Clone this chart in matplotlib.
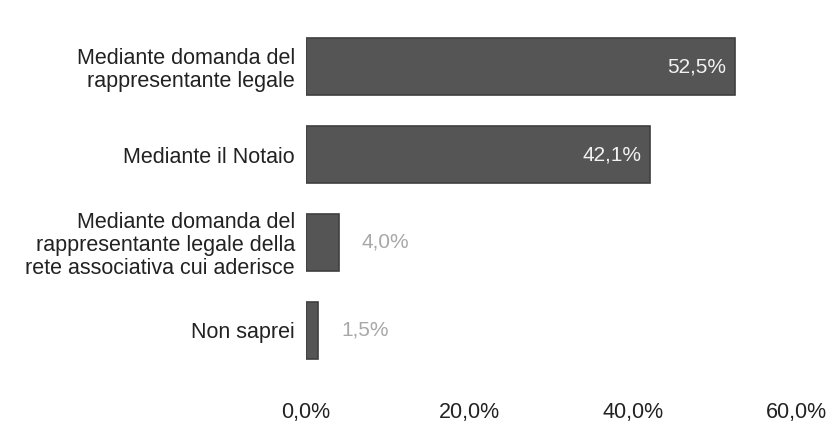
import matplotlib.pyplot as plt

# Survey answers and shares (%)
categories = [
    "Mediante domanda del\nrappresentante legale",
    "Mediante il Notaio",
    "Mediante domanda del\nrappresentante legale della\nrete associativa cui aderisce",
    "Non saprei",
]
values = [52.5, 42.1, 4.0, 1.5]
xticks = [0, 20, 40, 60]

plt.rcParams['font.family'] = ['Liberation Sans', 'DejaVu Sans']

fig = plt.figure(figsize=(8.31, 4.24), dpi=100)
ax = fig.add_axes([306 / 831, 1 - 374 / 424, 490 / 831, 351 / 424])

pos = list(range(len(categories)))
bars = ax.barh(pos, values, height=0.65, color='#555555',
               edgecolor='#3f3f3f', linewidth=1.2)

ax.set_ylim(len(categories) - 0.5, -0.5)
ax.set_xlim(0, 60)
ax.set_yticks(pos)
ax.set_yticklabels(categories, fontsize=15.5, color='#222222', linespacing=1.12)
ax.set_xticks(xticks)
ax.set_xticklabels([f"{t:.1f}%".replace('.', ',') for t in xticks],
                   fontsize=15.5, color='#222222')
ax.tick_params(axis='x', length=0, pad=20)
ax.tick_params(axis='y', length=0, pad=8)
for s in ax.spines.values():
    s.set_visible(False)

# Value labels: inside for long bars, outside for short ones
for b, v in zip(bars, values):
    txt = f"{v:.1f}%".replace('.', ',')
    y = b.get_y() + b.get_height() / 2
    if v > 20:
        ax.text(v - 1.0, y, txt, ha='right', va='center', fontsize=15,
                color='#f2f2f2')
    else:
        ax.text(v + 2.8, y, txt, ha='left', va='center', fontsize=15,
                color='#a8a8a8')

fig.savefig('out.png', dpi=100)
